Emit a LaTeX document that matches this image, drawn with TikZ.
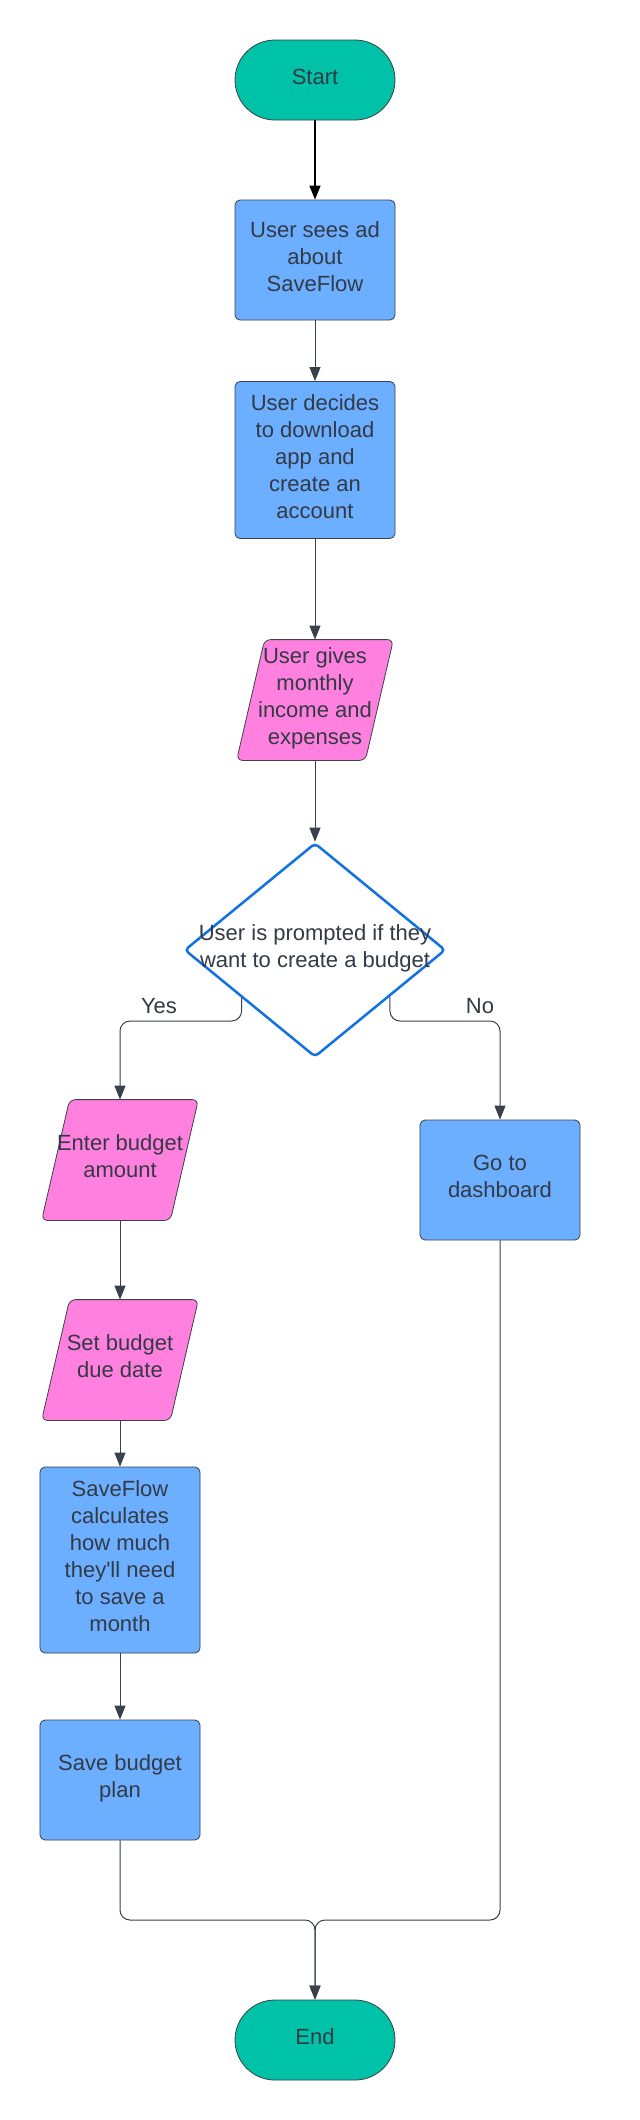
\documentclass[tikz,border=0pt]{standalone}
\usepackage{fontspec}
\setmainfont{Liberation Sans}
\usepackage{tikz}
\usetikzlibrary{positioning,calc,backgrounds}
\usetikzlibrary{arrows.meta}
\usetikzlibrary{shapes.geometric}
\definecolor{termteal}{RGB}{0,194,168}
\definecolor{procblue}{RGB}{108,174,255}
\definecolor{inpink}{RGB}{255,128,223}
\definecolor{decblue}{RGB}{16,113,229}
\definecolor{linegray}{RGB}{58,65,74}
\definecolor{textgray}{RGB}{51,58,68}
\tikzset{
        flownode/.style={align=center,inner sep=0pt,text depth=7bp,text=textgray,line width=0.8bp,font=\fontsize{22bp}{27bp}\selectfont},
        % Start and end
        node_terminal/.style={flownode, rectangle, rounded corners=40bp, draw=linegray, fill=termteal, minimum width=160bp, minimum height=80bp},
        % Process steps
        node_process/.style={flownode, rectangle, rounded corners=5bp, draw=linegray, fill=procblue, minimum width=160bp, minimum height=120bp},
        % Input steps (the slanted frame is drawn behind them)
        node_input/.style={flownode, rectangle, minimum width=128bp, minimum height=120bp},
        input_frame/.style={draw=linegray, fill=inpink, line width=0.8bp, rounded corners=6bp},
        % Decision
        node_decision/.style={flownode, diamond, draw=decblue, line width=2.5bp, rounded corners=4bp, fill=white, minimum width=261bp, minimum height=214bp},
        % Connectors
        flow/.style={->, draw=linegray, line width=1bp, rounded corners=10bp},
        branch_label/.style={flownode}
}

\begin{document}
\begin{tikzpicture}[
            x=1bp, y=-1bp,
            >={Triangle[width=11bp,length=14bp]}
        ]
            \useasboundingbox (0,0) rectangle (640,2120);
            \node[node_terminal] (start) at (315,80) {Start};
            \node[node_process] (ad) at (315,260) {User sees ad\\about\\SaveFlow};
            \node[node_process, minimum height=157bp] (signup) at (315,460) {User decides\\to download\\app and\\create an\\account};
            \node[node_input] (income) at (315,700) {User gives\\monthly\\income and\\expenses};
            \node[node_decision, label={[flownode]center:User is prompted if they\\want to create a budget}] (prompt) at (315,950) {};
            \node[node_input] (amount) at (120,1160) {Enter budget\\amount};
            \node[node_process] (dashboard) at (500,1180) {Go to\\dashboard};
            \node[node_input] (duedate) at (120,1360) {Set budget\\due date};
            \node[node_process, minimum height=186bp] (calc) at (120,1560) {SaveFlow\\calculates\\how much\\they\textquotesingle ll need\\to save a\\month};
            \node[node_process] (plan) at (120,1780) {Save budget\\plan};
            \node[node_terminal] (end) at (315,2040) {End};

            % slanted frames of the input steps
            \begin{scope}[on background layer]
                \fill[white] (0,0) rectangle (640,2120);
                \foreach \n in {income,amount,duedate}
                    \draw[input_frame] ([xshift=14bp]\n.north west) -- ([xshift=14bp]\n.north east)
                        -- ([xshift=-14bp]\n.south east) -- ([xshift=-14bp]\n.south west) -- cycle;
            \end{scope}

            \coordinate (yes_out) at ($(prompt.west)!0.443!(prompt.south)$);
            \coordinate (no_out) at ($(prompt.south)!0.569!(prompt.east)$);
            \coordinate (yes_bend) at (yes_out |- 0,1021);
            \coordinate (no_bend) at (no_out |- 0,1021);
            \coordinate (merge) at (315,1920);
            \node[branch_label] (yes_label) at (159,1009) {Yes};
            \node[branch_label] (no_label) at (480,1009) {No};

            \draw[flow, draw=black, line width=1.4bp] (start) -- (ad);
            \draw[flow] (ad) -- (signup);
            \draw[flow] (signup) -- (income);
            \draw[flow] (income) -- (prompt);
            \draw[flow] (yes_out) -- (yes_bend) -| (amount);
            \draw[flow] (no_out) -- (no_bend) -| (dashboard);
            \draw[flow] (amount) -- (duedate);
            \draw[flow] (duedate) -- (calc);
            \draw[flow] (calc) -- (plan);
            \draw[flow] (plan) |- (merge) -- (end);
            \draw[flow] (dashboard) |- (merge) -- (end);
        \end{tikzpicture}
\end{document}
